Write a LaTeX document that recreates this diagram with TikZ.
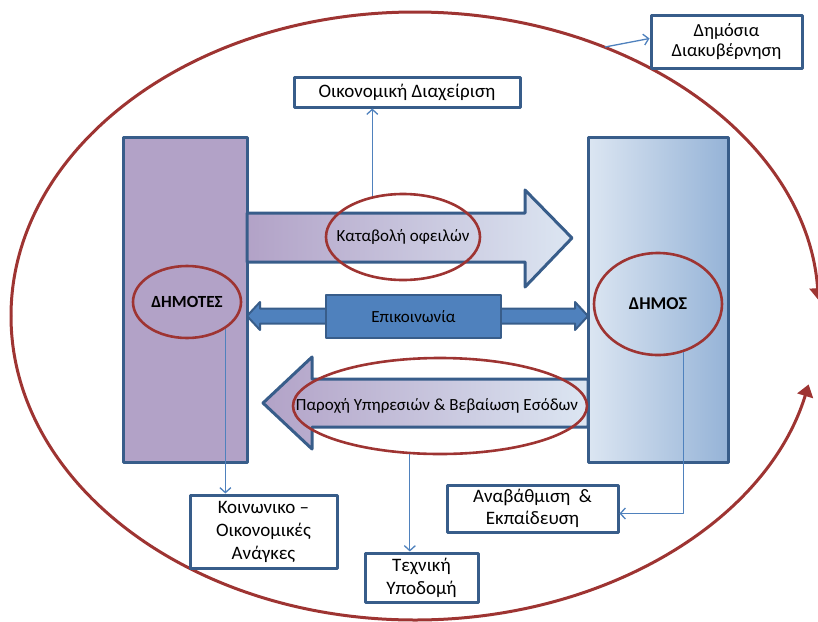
\documentclass[tikz,border=0pt]{standalone}
\usepackage{fontspec}
\setmainfont{Carlito}
\usetikzlibrary{arrows.meta,shapes.geometric}
\definecolor{boxblue}{RGB}{56,93,138}
\definecolor{linkblue}{RGB}{79,129,189}
\definecolor{ringred}{RGB}{158,52,50}
\definecolor{lilac}{RGB}{178,162,199}
\definecolor{paleblue}{RGB}{220,230,242}
\definecolor{midblue}{RGB}{149,179,215}
\begin{document}
\begin{tikzpicture}[x=1pt, y=-1pt, font=\fontsize{17}{21}\selectfont, line join=round,
	box/.style={draw=boxblue, line width=3pt, fill=white, align=center, inner sep=0pt},
	ring/.style={draw=ringred, line width=2.6pt, ellipse, inner sep=0pt},
	link/.style={draw=linkblue, line width=1.3pt, -{Straight Barb[length=5pt,width=11pt]}},
	flow/.style={draw=ringred, line width=3pt, -{Triangle[length=12pt,width=16pt]}}]
	\useasboundingbox (0,0) rectangle (818,621);
	% outer cycle
	\draw[flow] (11,316) arc[start angle=180, end angle=3, x radius=404pt, y radius=304pt];
	\draw[flow] (11,316) arc[start angle=180, end angle=347, x radius=404pt, y radius=304pt];
	% the two sides
	\node[draw=boxblue, line width=3pt, fill=lilac, minimum width=124pt, minimum height=325pt] (citizens) at (185,299.5) {};
	\node[draw=boxblue, line width=3pt, left color=paleblue, right color=midblue, minimum width=140pt, minimum height=325pt] (muni) at (658,299.5) {};
	% flows between them
	\shade[draw=boxblue, line width=3pt, left color=lilac, right color=paleblue] (247,213) -- (525,213) -- (525,190) -- (572,238) -- (525,287) -- (525,262) -- (247,262) -- cycle;
	\shade[draw=boxblue, line width=3pt, left color=lilac, right color=paleblue] (588,379) -- (312,379) -- (312,357) -- (263,403) -- (312,449) -- (312,427) -- (588,427) -- cycle;
	\filldraw[fill=linkblue, draw=boxblue, line width=2pt] (247,316) -- (260,302) -- (260,308.5) -- (575,308.5) -- (575,302) -- (588,316) -- (575,330) -- (575,323.5) -- (260,323.5) -- (260,330) -- cycle;
	\node[draw=boxblue, line width=2.6pt, fill=linkblue, minimum width=175pt, minimum height=43pt] (comm) at (413.5,316.5) {Επικοινωνία};
	% rings
	\node[ring, minimum width=108pt, minimum height=72pt, font=\fontsize{17}{18}\selectfont\bfseries] (citring) at (187,302) {ΔΗΜΟΤΕΣ};
	\node[ring, minimum width=128pt, minimum height=102pt, font=\fontsize{18}{18}\selectfont\bfseries] (muniring) at (658,304) {ΔΗΜΟΣ};
	\node[ring, minimum width=154pt, minimum height=86pt, label=center:{Καταβολή οφειλών}] (payring) at (403,237) {};
	\node[ring, minimum width=294pt, minimum height=96pt, label={[xshift=-3pt]center:{Παροχή Υπηρεσιών \& Βεβαίωση Εσόδων}}] (servring) at (440,406) {};
	% outcome boxes
	\node[box, minimum width=226pt, minimum height=30pt, font=\fontsize{19}{20}\selectfont] (finance) at (407,92) {Οικονομική Διαχείριση};
	\node[box, minimum width=151pt, minimum height=53pt, font=\fontsize{18.5}{20}\selectfont] (govern) at (726.5,41.5) {Δημόσια\\Διακυβέρνηση};
	\node[box, minimum width=147pt, minimum height=73pt, font=\fontsize{19}{23}\selectfont] (needs) at (263.5,531.5) {Κοινωνικο –\\Οικονομικές\\Ανάγκες};
	\node[box, minimum width=113pt, minimum height=49pt, font=\fontsize{19}{23}\selectfont] (infra) at (421.5,577.5) {Τεχνική\\Υποδομή};
	\node[box, minimum width=171pt, minimum height=47pt, font=\fontsize{19}{22}\selectfont] (upgrade) at (532.5,508.5) {Αναβάθμιση \ \&\\Εκπαίδευση};
	% connectors
	\coordinate (rim) at (605,47);
	\draw[link] (rim) -- ([yshift=3pt]govern.west);
	\draw[link] (payring.127) -- (payring.127 |- finance.south);
	\draw[link] (citring.-35) -- (citring.-35 |- needs.north);
	\draw[link] (servring.-122) -- (servring.-122 |- infra.north);
	\draw[link] (muniring.-62) |- ([yshift=-5pt]upgrade.east);
\end{tikzpicture}
\end{document}
